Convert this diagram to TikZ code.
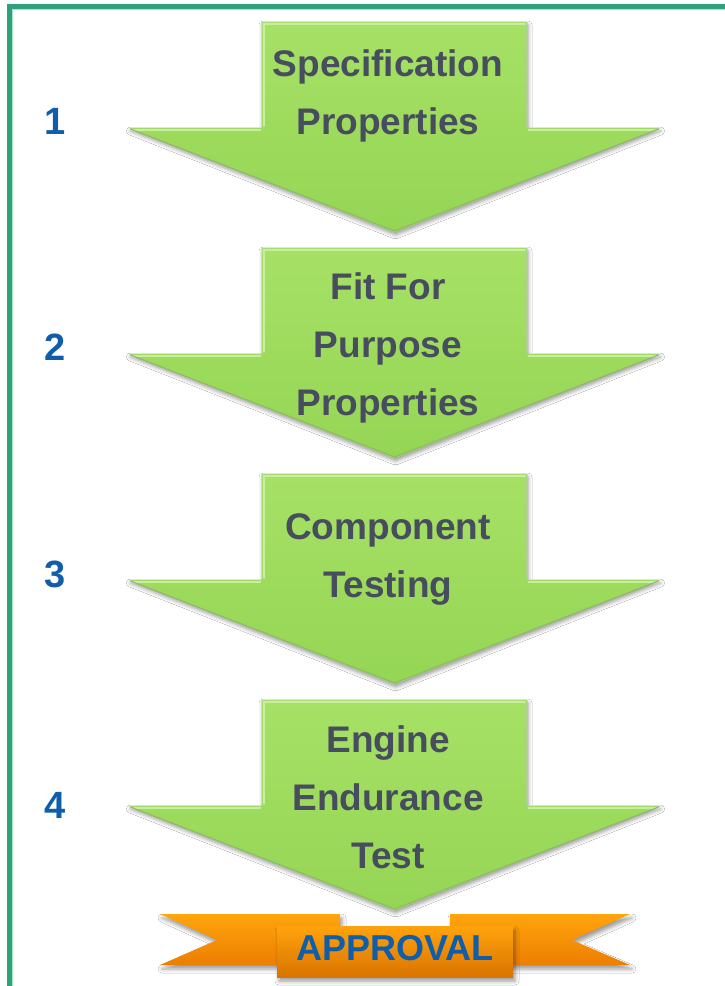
\documentclass[tikz,border=0pt]{standalone}
\usepackage{fontspec}
\setmainfont{Liberation Sans}
\usetikzlibrary{shadows.blur}

\definecolor{framegreen}{HTML}{2EA37A}
\definecolor{framelight}{HTML}{A8E6CC}
\definecolor{arrowtop}{HTML}{A6E166}
\definecolor{arrowbot}{HTML}{95D554}
\definecolor{arrowedge}{HTML}{75B03E}
\definecolor{arrowhi}{HTML}{C8F09A}
\definecolor{labelgrey}{HTML}{474D5E}
\definecolor{stepblue}{HTML}{105EAA}
\definecolor{ribtop}{HTML}{FFA50D}
\definecolor{ribbot}{HTML}{EC7E00}

\tikzset{
  x=1pt, y=-1pt,
  arrowbody/.style={top color=arrowtop, bottom color=arrowbot, draw=arrowedge!60, line width=0.6pt,
    line join=miter,
    blur shadow={shadow xshift=1pt, shadow yshift=-3pt, shadow blur radius=4pt, shadow opacity=40}},
  arrowtext/.style={text=labelgrey, align=center,
    font=\fontsize{37}{58}\selectfont\bfseries},
  stepnum/.style={text=stepblue, font=\fontsize{38}{40}\selectfont\bfseries},
  ribbonpart/.style={top color=ribtop, bottom color=ribbot,
    blur shadow={shadow xshift=2pt, shadow yshift=-4pt, shadow blur radius=4pt, shadow opacity=40}},
  bandtext/.style={text=stepblue, font=\fontsize{36}{38}\selectfont\bfseries},
  % block arrow pointing down; origin at the centre of the top edge
  downarrow/.pic={
    \path[arrowbody] (-132.5,0) -- (132.5,0) -- (132.5,106) -- (265,106)
       -- (0,210) -- (-265,106) -- (-132.5,106) -- cycle;
    % bevel highlights on the upper edges
    \draw[arrowhi, line width=1.4pt, line cap=round]
      (-130.5,104) -- (-130.5,2) -- (130.5,2);
    \draw[arrowhi, line width=1.4pt, line cap=round]
      (-261,108) -- (-134,108);
    \draw[arrowhi, line width=1.4pt, line cap=round]
      (134,108) -- (261,108);
    % darker bevel along the lower edges
    \draw[arrowedge!85, line width=1pt, line cap=round]
      (-264,107) -- (0,209) -- (264,107);
    \draw[arrowedge!60, line width=1pt]
      (132,1) -- (132,105);
  }
}

\begin{document}
\begin{tikzpicture}
  \useasboundingbox (0,0) rectangle (725,986);
  \fill[white] (0,0) rectangle (725,986);

  % frame
  \draw[framelight, line width=1.2pt] (12.8,986) -- (12.8,9.8) -- (725,9.8);
  \draw[framegreen, line width=5pt] (9.5,986) -- (9.5,6.5) -- (725,6.5);

  % four stages
  \pic at (394.5,22)  {downarrow};
  \pic at (394.5,248) {downarrow};
  \pic at (394.5,474) {downarrow};
  \pic at (394.5,700) {downarrow};

  \node[arrowtext] (s1) at (388,96)  {Specification\\Properties};
  \node[arrowtext] (s2) at (388,348) {Fit For\\Purpose\\Properties};
  \node[arrowtext] (s3) at (388,559) {Component\\Testing};
  \node[arrowtext] (s4) at (388,797) {Engine\\Endurance\\Test};

  \node[stepnum] (n1) at (55,121) {1};
  \node[stepnum] (n2) at (55,347) {2};
  \node[stepnum] (n3) at (55,574) {3};
  \node[stepnum] (n4) at (55,805) {4};

  % approval ribbon
  \path[ribbonpart] (160,914) -- (340,914) -- (340,965) -- (160,965) -- (217,940) -- cycle;
  \path[ribbonpart] (630,914) -- (450,914) -- (450,965) -- (630,965) -- (572,940) -- cycle;
  \path[ribbonpart, top color=ribtop!95!orange, bottom color=ribbot!92!black]
    (277,926) rectangle (513,977);
  \node[bandtext] (ok) at (395,948) {APPROVAL};
\end{tikzpicture}
\end{document}
